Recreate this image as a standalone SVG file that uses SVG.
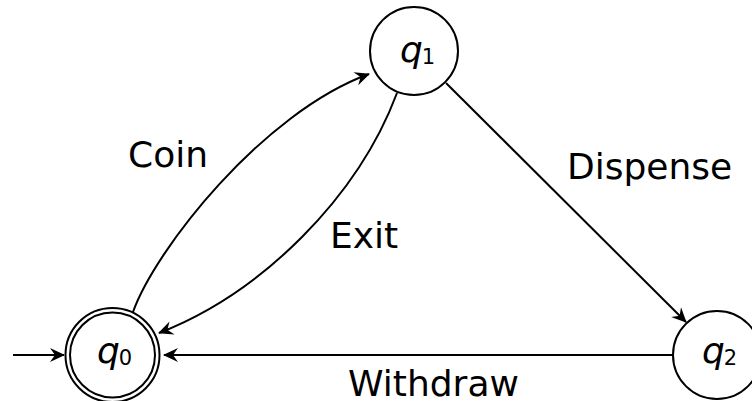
<svg xmlns="http://www.w3.org/2000/svg" width="752" height="401" viewBox="0 0 752 401">
<defs>
<style>
.st{fill:none;stroke:#000;stroke-width:2}
.lbl{font-family:"DejaVu Sans",sans-serif;font-size:36px;fill:#000}
.q{font-family:"DejaVu Sans",sans-serif;font-size:36px;font-style:italic;fill:#000}
.sub{font-style:normal;font-size:21px}
.edge{fill:none;stroke:#000;stroke-width:2;marker-end:url(#ah)}
</style>
<marker id="ah" markerUnits="userSpaceOnUse" markerWidth="20" markerHeight="16" viewBox="-16 -8 18 16" refX="0" refY="0" orient="auto">
<path d="M1,0 L-14,-7 L-9,0 L-14,7 Z" fill="#000"/>
</marker>
</defs>
<rect width="752" height="401" fill="#fff"/>
<g id="edges">
<path id="e-start" class="edge" d="M13,355 L64,355"/>
<path id="e-coin" class="edge" d="M133,312 C155,250 262,113 369,74"/>
<path id="e-exit" class="edge" d="M397,93 C358,197 262,293 159,333"/>
<path id="e-dispense" class="edge" d="M446,83 L686,322"/>
<path id="e-withdraw" class="edge" d="M673,355 L164,355"/>
<text class="lbl" x="128" y="167">Coin</text>
<text class="lbl" x="330" y="248">Exit</text>
<text class="lbl" x="567" y="179">Dispense</text>
<text class="lbl" x="348" y="396">Withdraw</text>
</g>
<g id="q0">
<circle class="st" cx="112.5" cy="355" r="47"/>
<circle class="st" cx="112.5" cy="355" r="42.5"/>
<text class="q" x="114" y="363" text-anchor="middle" letter-spacing="-1">q<tspan class="sub" dy="2">0</tspan></text>
</g>
<g id="q1">
<circle class="st" cx="414" cy="51" r="44"/>
<text class="q" x="417" y="62" text-anchor="middle" letter-spacing="-1">q<tspan class="sub" dy="2">1</tspan></text>
</g>
<g id="q2">
<circle class="st" cx="717" cy="355" r="44"/>
<text class="q" x="719" y="363" text-anchor="middle" letter-spacing="-1">q<tspan class="sub" dy="2">2</tspan></text>
</g>
</svg>
